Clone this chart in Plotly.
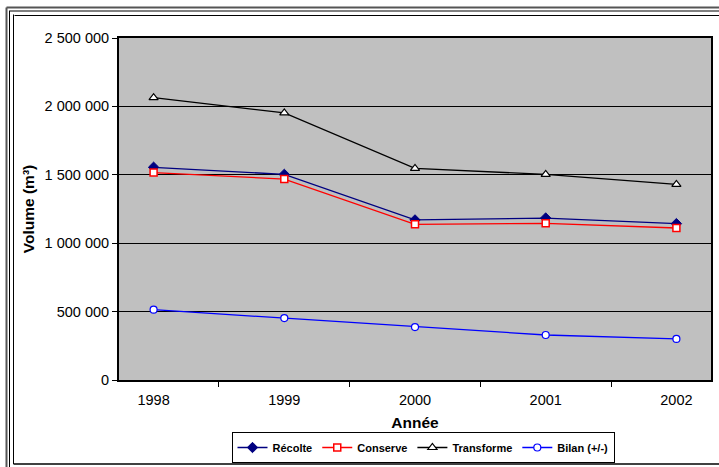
import plotly.graph_objects as go

# values
years = ["1998", "1999", "2000", "2001", "2002"]
recolte = [1555000, 1503000, 1170000, 1184000, 1143000]
conserve = [1516000, 1469000, 1138000, 1145000, 1111000]
transforme = [2064000, 1952000, 1547000, 1503000, 1430000]
bilan = [514000, 453000, 387000, 329000, 300000]

FONT = "Liberation Sans, Arial, sans-serif"

# plot-area pixel box in the 719x467 page
L, R, T, B = 119, 711, 38, 380
W, H = R - L, B - T


def px(x):
    return (x - L) / W


def py(y):
    return (B - y) / H


series = [
    ("Récolte", recolte, "#000080", dict(symbol="diamond", size=8, color="#000080",
                                          line=dict(color="#000080", width=1))),
    ("Conserve", conserve, "#FF0000", dict(symbol="square", size=7, color="white",
                                           line=dict(color="#FF0000", width=1.5))),
    ("Transforme", transforme, "#000000", dict(symbol="triangle-up", size=8, color="white",
                                               line=dict(color="#000000", width=1.2))),
    ("Bilan (+/-)", bilan, "#0000FF", dict(symbol="circle", size=7, color="white",
                                           line=dict(color="#0000FF", width=1.2))),
]

fig = go.Figure()
for name, vals, col, mk in series:
    fig.add_trace(go.Scatter(
        x=years, y=vals, name=name, mode="lines+markers",
        line=dict(color=col, width=1.3), marker=mk,
    ))

# triple frame around the chart (left + top + bottom edges visible)
frame = []
for x, w, c in [(6.5, 2, "#555"), (9.5, 1, "black"), (13.5, 1, "black")]:
    frame.append(dict(type="line", xref="paper", yref="paper",
                      x0=px(x), x1=px(x), y0=py(x + 1), y1=py(490 if x < 13 else 464),
                      line=dict(color=c, width=w)))
for y, w, c in [(7.5, 2, "#555"), (11, 1, "black"), (15.5, 1, "black")]:
    frame.append(dict(type="line", xref="paper", yref="paper",
                      x0=px(y - 1), x1=px(730),
                      y0=py(y), y1=py(y), line=dict(color=c, width=w)))
frame.append(dict(type="line", xref="paper", yref="paper",
                  x0=px(13.5), x1=px(730), y0=py(464), y1=py(464),
                  line=dict(color="black", width=1.5)))

fig.update_layout(
    width=719, height=467,
    margin=dict(l=L, r=719 - R, t=T, b=467 - B, autoexpand=False),
    paper_bgcolor="white", plot_bgcolor="#C0C0C0",
    font=dict(family=FONT, size=14.5, color="black"),
    separators=", ",
    showlegend=True,
    legend=dict(orientation="h", x=px(423), xanchor="center", y=py(432), yanchor="top",
                bordercolor="black", borderwidth=1, bgcolor="white",
                font=dict(family=FONT, size=11, color="black", weight="bold"),
                itemwidth=30, tracegroupgap=0),
    shapes=frame,
    xaxis=dict(
        type="category", tickson="boundaries", ticks="outside", ticklen=5,
        tickcolor="black", showgrid=False, zeroline=False, automargin=False,
        showline=True, linecolor="black", linewidth=2, mirror=True,
        tickfont=dict(size=14.5), ticklabelstandoff=6,
        title=dict(text="Année", font=dict(size=15.5, weight="bold"), standoff=10),
    ),
    yaxis=dict(
        range=[0, 2500000], dtick=500000, tickformat=",d", automargin=False,
        ticks="outside", ticklen=5, tickcolor="black",
        showgrid=True, gridcolor="black", gridwidth=1, zeroline=False,
        showline=True, linecolor="black", linewidth=2, mirror=True,
        tickfont=dict(size=14.5),
        title=dict(text="Volume (m³)", font=dict(size=15.5, weight="bold"), standoff=6),
    ),
)

# drop the browser's default 8px body margin so the figure sits at the page corner
fig.write_html("out.html", config={"displayModeBar": False},
               post_script="document.body.style.margin = '0';")
